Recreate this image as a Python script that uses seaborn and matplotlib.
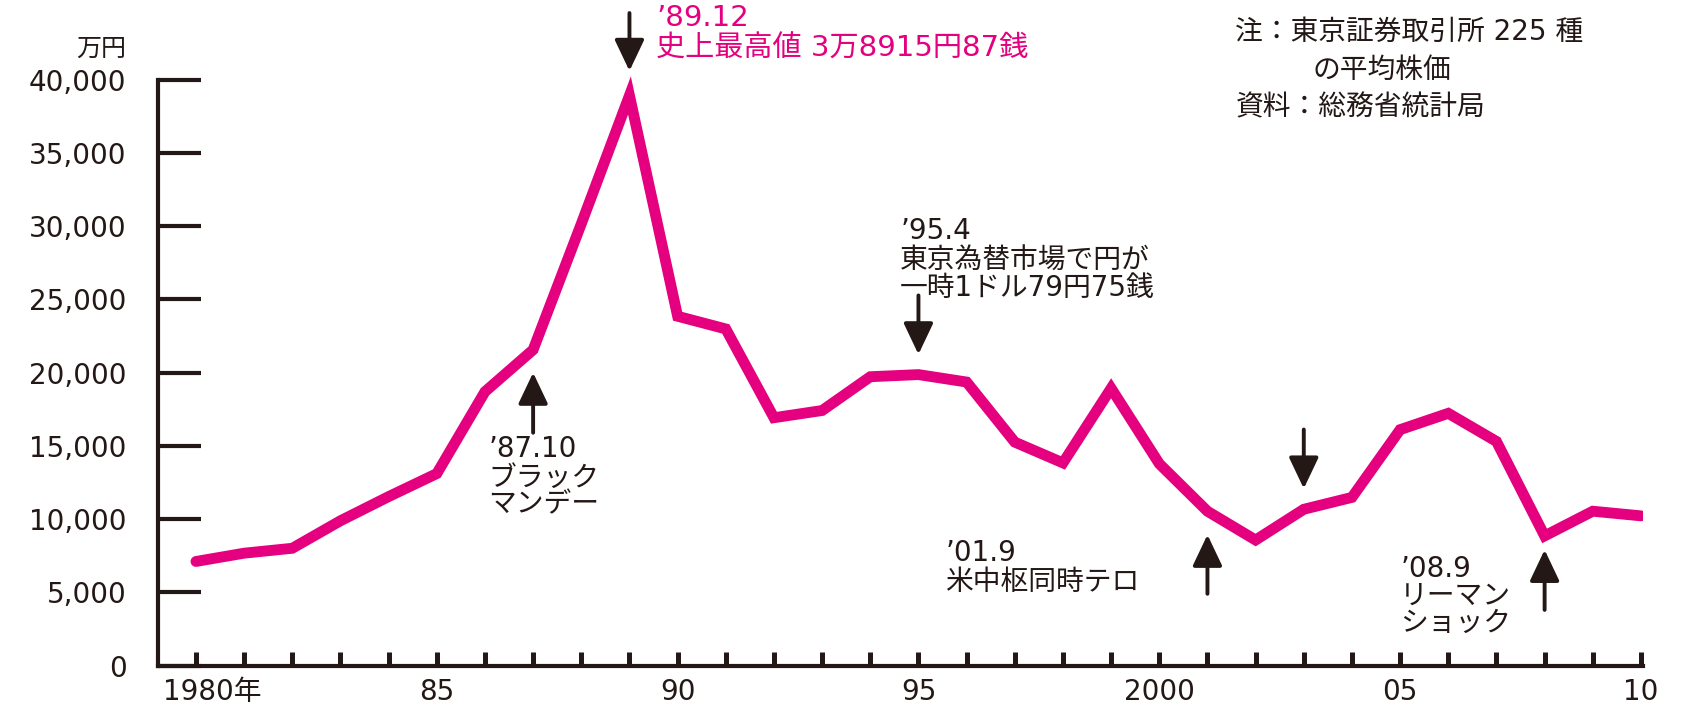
import matplotlib
matplotlib.use("Agg")
import matplotlib.pyplot as plt
import matplotlib.transforms as mtransforms
from matplotlib.ticker import FuncFormatter, FixedLocator
import seaborn as sns
import pandas as pd

# Nikkei 225 year-end closing values (yen)
years = list(range(1980, 2011))
nikkei = [7116, 7682, 8017, 9894, 11543, 13113, 18701, 21564, 30159, 38916,
          23849, 22984, 16925, 17417, 19723, 19868, 19361, 15259, 13842, 18934,
          13786, 10543, 8579, 10677, 11489, 16111, 17226, 15308, 8860, 10546,
          10229]

y_ticks = [0, 5000, 10000, 15000, 20000, 25000, 30000, 35000, 40000]
x_label_years = [1980, 1985, 1990, 1995, 2000, 2005, 2010]
x_label_texts = ["1980年", "85", "90", "95", "2000", "05", "10"]

# event markers: (year, arrow tail value, arrow head value)
event_years = [1989, 1987, 1995, 2003, 2001, 2008]
event_tails = [44540, 15900, 25270, 16120, 4910, 3810]
event_heads = [40590, 20000, 21250, 12090, 8940, 7910]

PINK = "#E4007F"
INK = "#231815"

sns.set_theme(style="white")
plt.rcParams["font.family"] = ["DejaVu Sans", "Noto Sans CJK JP"]

df = pd.DataFrame({"year": years, "value": nikkei})

fig = plt.figure(figsize=(16.85, 7.09), dpi=100)
ax = fig.add_axes([0.094, 0.061, 0.881, 0.939])

sns.lineplot(data=df, x="year", y="value", color=PINK, linewidth=7.8,
             ax=ax, solid_joinstyle="miter", zorder=3)

ax.set_xlim(1979.22, 2010.04)
ax.set_ylim(0, 45430)
ax.set_xlabel("")
ax.set_ylabel("")

for side in ("top", "right"):
    ax.spines[side].set_visible(False)
for side in ("left", "bottom"):
    ax.spines[side].set_linewidth(3.0)
    ax.spines[side].set_color(INK)
ax.spines["left"].set_bounds(0, 40000)
ax.spines["bottom"].set_capstyle("projecting")

# y axis
ax.yaxis.set_major_locator(FixedLocator(y_ticks))
ax.yaxis.set_major_formatter(FuncFormatter(lambda v, p: f"{int(v):,}"))
ax.tick_params(axis="y", left=True, direction="in", length=31, width=3.0,
               color=INK, pad=23, labelsize=20, labelcolor=INK)

# x axis: a tick every year, labels every five years
ax.xaxis.set_major_locator(FixedLocator(years))
label_map = dict(zip(x_label_years, x_label_texts))
ax.xaxis.set_major_formatter(FuncFormatter(lambda v, p: label_map.get(int(round(v)), "")))
ax.tick_params(axis="x", bottom=True, direction="in", length=10, width=3.6,
               color=INK, pad=9, labelsize=20, labelcolor=INK)
for lbl in ax.get_xticklabels():
    if lbl.get_text().endswith("年"):
        lbl.set_transform(lbl.get_transform() +
                          mtransforms.ScaledTranslation(0.16, 0, fig.dpi_scale_trans))
ax.grid(False)

# unit label
ax.text(1978.55, 42125, "万円", ha="right", va="center", fontsize=18,
        color=INK, clip_on=False)

# arrows
for x, tail, head in zip(event_years, event_tails, event_heads):
    ax.annotate("", xy=(x, head), xytext=(x, tail),
                arrowprops=dict(arrowstyle="-|>,head_length=0.8,head_width=0.38",
                                color=INK, lw=2.8, mutation_scale=24,
                                shrinkA=0, shrinkB=0),
                zorder=4, annotation_clip=False)


def lines_at(x, ys, texts, color=INK, size=20):
    for y, t in zip(ys, texts):
        ax.text(x, y, t, ha="left", va="center", fontsize=size, color=color,
                clip_on=False)


lines_at(1989.55, [44180, 42125], ["’89.12", "史上最高値 3万8915円87銭"],
         color=PINK, size=21)
lines_at(1994.62, [29670, 27690, 25790],
         ["’95.4", "東京為替市場で円が", "一時1ドル79円75銭"])
lines_at(1986.07, [14800, 12820, 10990], ["’87.10", "ブラック", "マンデー"])
lines_at(1995.56, [7690, 5710], ["’01.9", "米中枢同時テロ"])
lines_at(2005.0, [6590, 4760, 2930], ["’08.9", "リーマン", "ショック"])

# source note
lines_at(2001.58, [43220, 38100], ["注：東京証券取引所 225 種", "資料：総務省統計局"])
lines_at(2003.19, [40660], ["の平均株価"])

fig.savefig("out.png", dpi=100, facecolor="white")
